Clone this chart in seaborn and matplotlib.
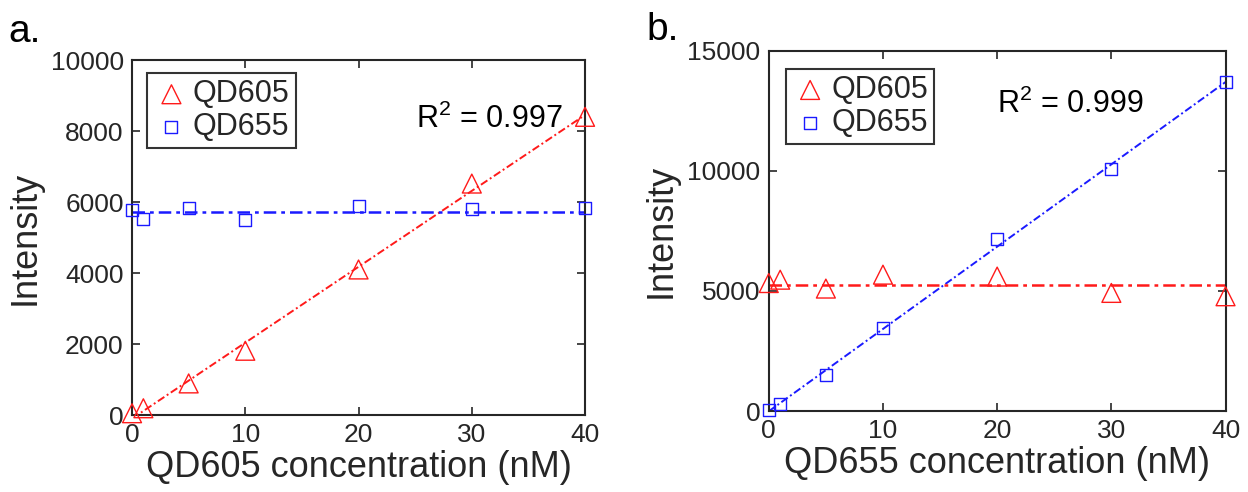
import numpy as np
import pandas as pd
import seaborn as sns
import matplotlib.pyplot as plt

# concentrations (nM)
conc = [0, 1, 5, 10, 20, 30, 40]

# panel a: titrating QD605
a_qd605 = [50, 190, 890, 1810, 4100, 6520, 8400]
a_qd655 = [5775, 5510, 5820, 5490, 5890, 5790, 5820]

# panel b: titrating QD655
b_qd605 = [5330, 5470, 5100, 5680, 5600, 4920, 4780]
b_qd655 = [55, 305, 1490, 3460, 7180, 10060, 13710]

r2_text = ['R$^2$ = 0.997', 'R$^2$ = 0.999']
xlabels = ['QD605 concentration (nM)', 'QD655 concentration (nM)']
ymax = [10000, 15000]

sns.set_style('ticks')
plt.rcParams['font.family'] = ['Liberation Sans', 'DejaVu Sans']
plt.rcParams['mathtext.fontset'] = 'custom'
plt.rcParams['mathtext.rm'] = 'Liberation Sans'

RED = '#ff1a1a'
BLUE = '#1a1aff'
GRAY = '#262626'

fig = plt.figure(figsize=(12.48, 4.92), dpi=100)
ax_a = fig.add_axes([0.1058, 0.1565, 0.363, 0.7215])
ax_b = fig.add_axes([0.616, 0.1646, 0.366, 0.732])


def draw_panel(ax, y605, y655, fit, label, xlab, top, txt_pos, leg_pos):
    df = pd.DataFrame({'conc': conc, 'QD605': y605, 'QD655': y655})
    tri = dict(marker='^', s=185, facecolors='none', edgecolors=RED,
               linewidths=1.0, clip_on=False, zorder=3)
    sq = dict(marker='s', s=75, facecolors='none', edgecolors=BLUE,
              linewidths=1.0, clip_on=False, zorder=3)
    sns.scatterplot(data=df, x='conc', y='QD605', ax=ax, label='QD605', **tri)
    sns.scatterplot(data=df, x='conc', y='QD655', ax=ax, label='QD655', **sq)
    # fitted line through the titrated dye, flat mean line for the other
    flat, col_flat, col_fit = ('QD655', BLUE, RED) if fit == 'QD605' else ('QD605', RED, BLUE)
    sns.regplot(data=df, x='conc', y=fit, ax=ax, ci=None, scatter=False,
                truncate=True, line_kws=dict(color=col_fit, ls=(0, (4, 1.5, 1, 1.5)), lw=1.4))
    ax.axhline(df[flat].mean(), color=col_flat, ls=(0, (5, 2, 1.5, 2)), lw=1.8, zorder=2)

    ax.set_xlim(0, 40)
    ax.set_ylim(0, top)
    ax.set_xticks([0, 10, 20, 30, 40])
    ax.set_yticks(np.arange(0, top + 1, 2000 if top == 10000 else 5000))
    ax.set_xlabel(xlab, fontsize=26, labelpad=2)
    ax.set_ylabel('Intensity', fontsize=26, labelpad=6)
    ax.tick_params(direction='in', length=6, width=1.2, labelsize=19,
                   colors=GRAY, top=True, right=True, pad=6)
    for s in ax.spines.values():
        s.set_visible(True)
        s.set_linewidth(1.5)
        s.set_color(GRAY)
    ax.text(txt_pos[0], txt_pos[1], r2_text[0 if fit == 'QD605' else 1],
            fontsize=22, color='black')
    leg = ax.legend(loc='upper left', bbox_to_anchor=leg_pos, fontsize=22,
                    frameon=True, fancybox=False, handletextpad=0.1,
                    handlelength=1.2, borderpad=0.2, labelspacing=0.1,
                    borderaxespad=0)
    leg.get_frame().set_edgecolor('black')
    leg.get_frame().set_linewidth(1.5)
    fig.text(label[1], label[2], label[0], fontsize=28, color='black')


draw_panel(ax_a, a_qd605, a_qd655, 'QD605', ('a.', 0.007, 0.915), xlabels[0],
           ymax[0], (25.1, 8085), (0.033, 0.963))
draw_panel(ax_b, b_qd605, b_qd655, 'QD655', ('b.', 0.518, 0.918), xlabels[1],
           ymax[1], (20.0, 12417), (0.037, 0.95))

plt.savefig('out.png', dpi=100)
